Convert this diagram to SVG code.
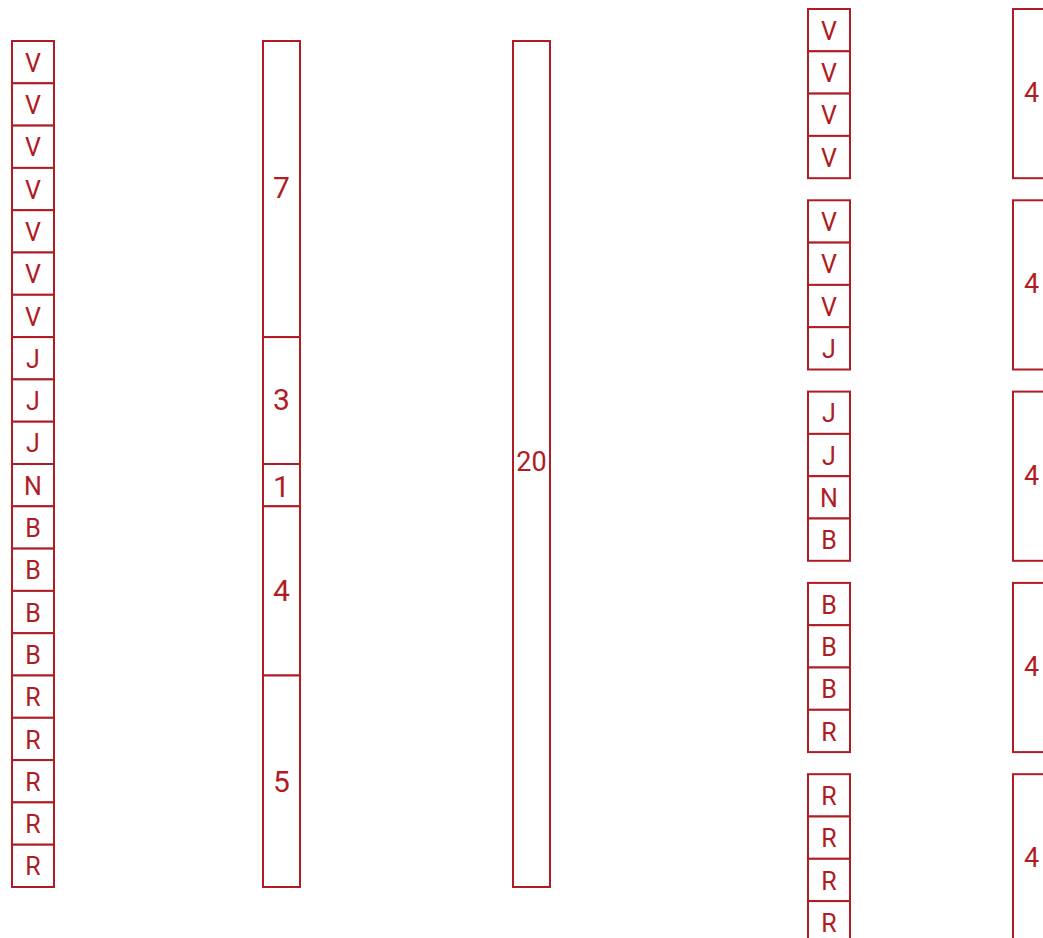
<svg xmlns="http://www.w3.org/2000/svg" width="1043" height="938" viewBox="0 0 1043 938">
<style>
rect{fill:#fff;stroke:#b01c24;stroke-width:2}
text{fill:#b01c24;font-family:Roboto,"Liberation Sans",sans-serif;text-anchor:middle;dominant-baseline:central}
.s{font-size:25px}
.m{font-size:30px}
.n{font-size:27px}
</style>
<rect x="0" y="0" width="1043" height="938" style="stroke:none"/>
<g id="col1" class="s">
<g id="c1-0"><rect x="12" y="41" width="42" height="42.3"/><text x="33" y="63.2">V</text></g>
<g id="c1-1"><rect x="12" y="83.3" width="42" height="42.3"/><text x="33" y="105.5">V</text></g>
<g id="c1-2"><rect x="12" y="125.6" width="42" height="42.3"/><text x="33" y="147.8">V</text></g>
<g id="c1-3"><rect x="12" y="167.9" width="42" height="42.3"/><text x="33" y="190.1">V</text></g>
<g id="c1-4"><rect x="12" y="210.2" width="42" height="42.3"/><text x="33" y="232.4">V</text></g>
<g id="c1-5"><rect x="12" y="252.5" width="42" height="42.3"/><text x="33" y="274.7">V</text></g>
<g id="c1-6"><rect x="12" y="294.8" width="42" height="42.3"/><text x="33" y="317">V</text></g>
<g id="c1-7"><rect x="12" y="337.1" width="42" height="42.3"/><text x="33" y="359.3">J</text></g>
<g id="c1-8"><rect x="12" y="379.4" width="42" height="42.3"/><text x="33" y="401.6">J</text></g>
<g id="c1-9"><rect x="12" y="421.7" width="42" height="42.3"/><text x="33" y="443.9">J</text></g>
<g id="c1-10"><rect x="12" y="464" width="42" height="42.3"/><text x="33" y="486.2">N</text></g>
<g id="c1-11"><rect x="12" y="506.3" width="42" height="42.3"/><text x="33" y="528.5">B</text></g>
<g id="c1-12"><rect x="12" y="548.6" width="42" height="42.3"/><text x="33" y="570.8">B</text></g>
<g id="c1-13"><rect x="12" y="590.9" width="42" height="42.3"/><text x="33" y="613.1">B</text></g>
<g id="c1-14"><rect x="12" y="633.2" width="42" height="42.3"/><text x="33" y="655.4">B</text></g>
<g id="c1-15"><rect x="12" y="675.5" width="42" height="42.3"/><text x="33" y="697.7">R</text></g>
<g id="c1-16"><rect x="12" y="717.8" width="42" height="42.3"/><text x="33" y="740">R</text></g>
<g id="c1-17"><rect x="12" y="760.1" width="42" height="42.3"/><text x="33" y="782.3">R</text></g>
<g id="c1-18"><rect x="12" y="802.4" width="42" height="42.3"/><text x="33" y="824.6">R</text></g>
<g id="c1-19"><rect x="12" y="844.7" width="42" height="42.3"/><text x="33" y="866.9">R</text></g>
</g>
<g id="col2" class="m">
<g id="c2-0"><rect x="263" y="41" width="37" height="296.1"/><text x="281.5" y="187.5">7</text></g>
<g id="c2-1"><rect x="263" y="337.1" width="37" height="126.9"/><text x="281.5" y="399.5">3</text></g>
<g id="c2-2"><rect x="263" y="464" width="37" height="42.3"/><text x="281.5" y="486.5">1</text></g>
<g id="c2-3"><rect x="263" y="506.3" width="37" height="169.2"/><text x="281.5" y="590">4</text></g>
<g id="c2-4"><rect x="263" y="675.5" width="37" height="211.5"/><text x="281.5" y="781.5">5</text></g>
</g>
<g id="col3" class="n">
<g id="c3-0"><rect x="513" y="41" width="37" height="846"/><text x="531.5" y="462">20</text></g>
</g>
<g id="col4" class="s">
<g id="g4-0">
<rect x="808" y="9" width="42" height="42.3"/><text x="829" y="31.2">V</text>
<rect x="808" y="51.3" width="42" height="42.3"/><text x="829" y="73.5">V</text>
<rect x="808" y="93.6" width="42" height="42.3"/><text x="829" y="115.8">V</text>
<rect x="808" y="135.9" width="42" height="42.3"/><text x="829" y="158.1">V</text>
</g>
<g id="g4-1">
<rect x="808" y="200.3" width="42" height="42.3"/><text x="829" y="222.5">V</text>
<rect x="808" y="242.6" width="42" height="42.3"/><text x="829" y="264.8">V</text>
<rect x="808" y="284.9" width="42" height="42.3"/><text x="829" y="307.1">V</text>
<rect x="808" y="327.2" width="42" height="42.3"/><text x="829" y="349.4">J</text>
</g>
<g id="g4-2">
<rect x="808" y="391.6" width="42" height="42.3"/><text x="829" y="413.8">J</text>
<rect x="808" y="433.9" width="42" height="42.3"/><text x="829" y="456.1">J</text>
<rect x="808" y="476.2" width="42" height="42.3"/><text x="829" y="498.4">N</text>
<rect x="808" y="518.5" width="42" height="42.3"/><text x="829" y="540.7">B</text>
</g>
<g id="g4-3">
<rect x="808" y="582.9" width="42" height="42.3"/><text x="829" y="605.1">B</text>
<rect x="808" y="625.2" width="42" height="42.3"/><text x="829" y="647.4">B</text>
<rect x="808" y="667.5" width="42" height="42.3"/><text x="829" y="689.7">B</text>
<rect x="808" y="709.8" width="42" height="42.3"/><text x="829" y="732">R</text>
</g>
<g id="g4-4">
<rect x="808" y="774.2" width="42" height="42.3"/><text x="829" y="796.4">R</text>
<rect x="808" y="816.5" width="42" height="42.3"/><text x="829" y="838.7">R</text>
<rect x="808" y="858.8" width="42" height="42.3"/><text x="829" y="881">R</text>
<rect x="808" y="901.1" width="42" height="42.3"/><text x="829" y="923.3">R</text>
</g>
</g>
<g id="col5" class="n">
<g id="c5-0"><rect x="1013" y="9" width="37" height="169.2"/><text x="1031.5" y="93">4</text></g>
<g id="c5-1"><rect x="1013" y="200.3" width="37" height="169.2"/><text x="1031.5" y="284.3">4</text></g>
<g id="c5-2"><rect x="1013" y="391.6" width="37" height="169.2"/><text x="1031.5" y="475.6">4</text></g>
<g id="c5-3"><rect x="1013" y="582.9" width="37" height="169.2"/><text x="1031.5" y="666.9">4</text></g>
<g id="c5-4"><rect x="1013" y="774.2" width="37" height="169.2"/><text x="1031.5" y="858.2">4</text></g>
</g>
<g id="connectors"/>
</svg>
